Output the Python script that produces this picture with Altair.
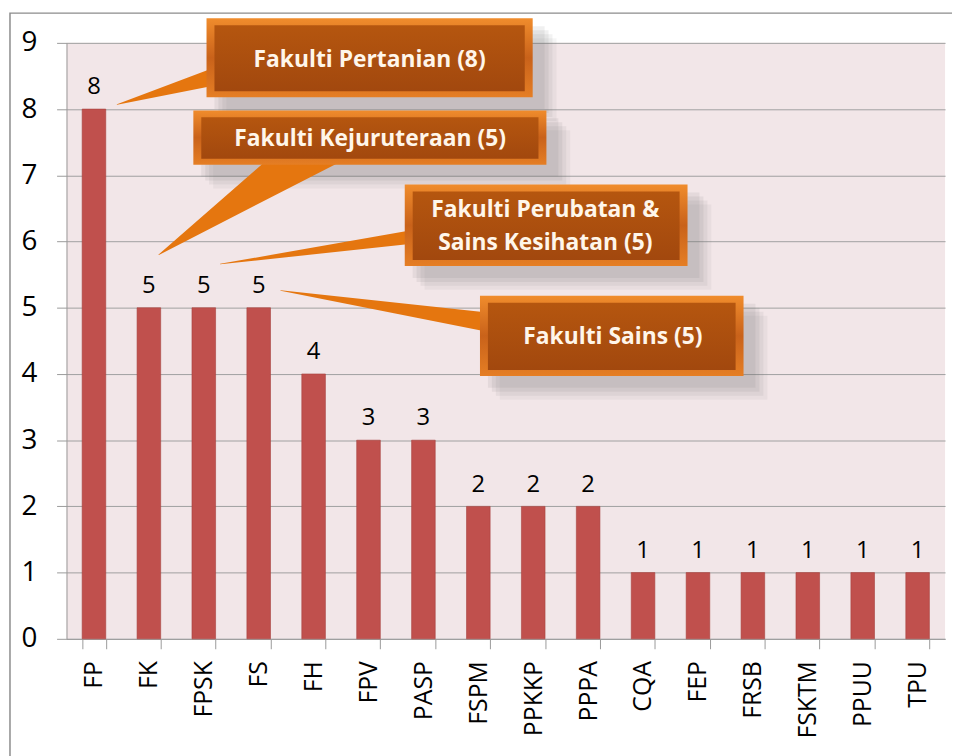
import altair as alt
import pandas as pd

# ---- data ----
categories = ["FP", "FK", "FPSK", "FS", "FH", "FPV", "PASP", "FSPM",
              "PPKKP", "PPPA", "CQA", "FEP", "FRSB", "FSKTM", "PPUU", "TPU"]
counts = [8, 5, 5, 5, 4, 3, 3, 2, 2, 2, 1, 1, 1, 1, 1, 1]

# ---- callouts (x in category slots 0..16, y in count units) ----
box_x0 = [2.55, 2.31, 6.16, 7.53]
box_x1 = [8.49, 8.74, 11.31, 12.33]
box_y0 = [8.18, 7.16, 5.63, 3.97]
box_y1 = [9.37, 7.98, 6.86, 5.18]

text_lines = ["Fakulti Pertanian (8)", "Fakulti Kejuruteraan (5)",
              "Fakulti Perubatan &", "Sains Kesihatan (5)", "Fakulti Sains (5)"]
text_x = [5.52, 5.53, 8.72, 8.72, 9.95]
text_y = [8.745, 7.547, 6.47, 5.97, 4.552]

ptr_tip_x = [0.92, 1.68, 2.80, 3.90]
ptr_tip_y = [8.07, 5.80, 5.66, 5.26]
ptr_base_x = [2.95, 4.70, 6.40, 7.85]
ptr_base_y = [8.55, 7.50, 6.08, 4.76]
ptr_base_w = [20, 50, 14, 20]

bars = pd.DataFrame({"cat": categories, "n": counts})
boxes = pd.DataFrame({"x0": box_x0, "x1": box_x1, "y0": box_y0, "y1": box_y1})
texts = pd.DataFrame({"t": text_lines, "x": text_x, "y": text_y})
rows = []
for i in range(len(ptr_tip_x)):
    rows.append({"id": i, "o": 0, "x": ptr_tip_x[i], "y": ptr_tip_y[i], "w": 0.5})
    rows.append({"id": i, "o": 1, "x": ptr_base_x[i], "y": ptr_base_y[i], "w": ptr_base_w[i]})
ptrs = pd.DataFrame(rows)

FONT = "Open Sans"
yscale = alt.Scale(domain=[0, 9], nice=False)
slot = alt.Scale(domain=[0, 16], nice=False, zero=False)
yaxis = alt.Axis(title=None, values=list(range(10)), tickSize=10,
                 labelFontSize=28, labelFont=FONT, labelColor="black",
                 labelPadding=20, grid=True, gridColor="#a0a0a0",
                 tickColor="#9a9a9a", domainColor="#9a9a9a")


def Y(field):
    return alt.Y(field, scale=yscale, axis=yaxis, title=None)


base = alt.Chart(bars)
bar_layer = base.mark_bar(color="#C0504D", stroke="#A8423F", strokeWidth=0.6).encode(
    x=alt.X("cat:N", sort=categories,
            scale=alt.Scale(paddingInner=0.57, paddingOuter=0.285),
            axis=alt.Axis(title=None, labelAngle=-90, labelFontSize=25, labelFont=FONT,
                          labelColor="black", tickBand="extent", tickSize=10,
                          tickColor="#9a9a9a", domainColor="#9a9a9a", labelPadding=12,
                          grid=False)),
    y=Y("n:Q"),
)
val_layer = base.mark_text(dy=-15, baseline="alphabetic", fontSize=24, font=FONT,
                           color="black").encode(
    x=alt.X("cat:N", sort=categories, axis=None), y=Y("n:Q"), text="n:Q")


def rect_layer(**props):
    return alt.Chart(boxes).mark_rect(**props).encode(
        x=alt.X("x0:Q", scale=slot, axis=None), x2="x1:Q",
        y=Y("y1:Q"), y2="y0:Q")


shadows = []
for o, op in [(6, 0.10), (10, 0.10), (14, 0.09), (18, 0.07)]:
    shadows.append(rect_layer(color="#6e6e6e", opacity=op, xOffset=o + 2, x2Offset=o + 6,
                              yOffset=o + 2, y2Offset=o + 6))

ptr_layer = alt.Chart(ptrs).mark_trail(color="#E5760F").encode(
    x=alt.X("x:Q", scale=slot, axis=None),
    y=Y("y:Q"),
    size=alt.Size("w:Q", scale=None, legend=None),
    detail="id:N", order="o:Q")

bevel = rect_layer(color=alt.Gradient(gradient="linear", x1=0, y1=0, x2=0, y2=1,
                                      stops=[alt.GradientStop(color="#F08C2C", offset=0),
                                             alt.GradientStop(color="#C9621A", offset=0.5),
                                             alt.GradientStop(color="#E57E24", offset=1)]))
face = rect_layer(color=alt.Gradient(gradient="linear", x1=0, y1=0, x2=0, y2=1,
                                     stops=[alt.GradientStop(color="#B5560F", offset=0),
                                            alt.GradientStop(color="#A2480E", offset=1)]),
                  xOffset=8, x2Offset=-8, yOffset=7, y2Offset=-6)

txt_layer = alt.Chart(texts).mark_text(font=FONT, fontWeight="bold", fontSize=23,
                                       color="#FFF6EA").encode(
    x=alt.X("x:Q", scale=slot, axis=None),
    y=Y("y:Q"), text="t:N")

frame = alt.Chart(pd.DataFrame({"a": [0]})).mark_rect(
    filled=False, stroke="#8c8c8c", strokeWidth=1.5).encode(
    x=alt.value(-57), x2=alt.value(960), y=alt.value(-30), y2=alt.value(800))

chart = alt.layer(
    frame, bar_layer, val_layer, *shadows, ptr_layer, bevel, face, txt_layer
).resolve_scale(x="independent").properties(
    width=886, height=601,
    autosize=alt.AutoSizeParams(type="none"),
    padding={"left": 59, "top": 32, "right": 7, "bottom": 115},
    background="white",
).configure_view(fill="#F2E6E8", stroke=None)

chart.save("out.html", embed_options={"renderer": "svg", "actions": False})
